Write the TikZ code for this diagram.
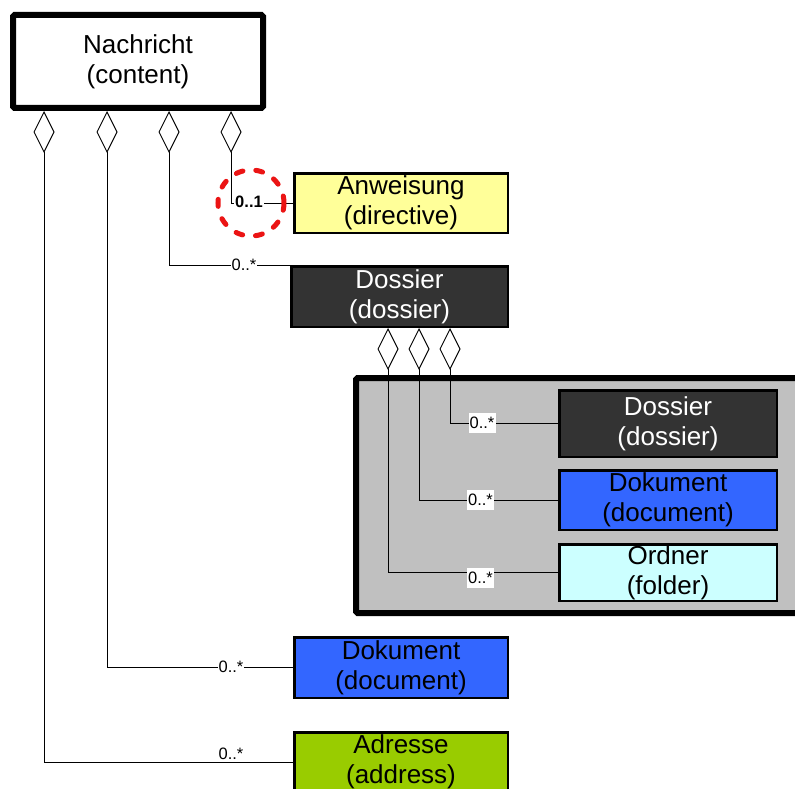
\documentclass[tikz,border=0pt]{standalone}
\usepackage{fontspec}
\setmainfont{Liberation Sans}
\usetikzlibrary{arrows.meta}
\definecolor{anwfill}{HTML}{FFFF99}
\definecolor{darkfill}{HTML}{333333}
\definecolor{blufill}{HTML}{3366FF}
\definecolor{cyanfill}{HTML}{CCFFFF}
\definecolor{grnfill}{HTML}{99CC00}
\definecolor{greyfill}{HTML}{C0C0C0}
\definecolor{hlred}{RGB}{235,20,20}
\begin{document}
\begin{tikzpicture}[x=1pt,y=-1pt,
  box/.style={draw=black,line width=2.5pt,rectangle,inner sep=0pt,align=center,
    font=\fontsize{26}{30}\selectfont},
  bigbox/.style={box,line width=6pt,rounded corners=1.5pt},
  lab/.style={fill=white,inner sep=1pt,font=\fontsize{16.5}{16.5}\selectfont},
  boldlab/.style={lab,font=\fontsize{16.5}{16.5}\selectfont\bfseries},
  agg/.style={draw=black,line width=1pt,{Diamond[open,length=42pt,width=21pt]}-}
]
\useasboundingbox (0,0) rectangle (795,789);
\clip (0,0) rectangle (795,789);

% container
\node[draw=black,line width=6pt,fill=greyfill,rectangle,minimum width=459pt,minimum height=235pt,rounded corners=1.5pt] (grp) at (585.5,495.5) {};

% boxes
\node[bigbox,fill=white,minimum width=250pt,minimum height=93pt] (nach) at (138,61.5) {Nachricht\\(content)};
\node[box,fill=anwfill,minimum width=213.5pt,minimum height=59.5pt] (anw) at (401,203) {Anweisung\\(directive)};
\node[box,fill=darkfill,text=white,minimum width=216.5pt,minimum height=60.5pt] (dos1) at (399.5,296.5) {Dossier\\(dossier)};
\node[box,fill=darkfill,text=white,minimum width=217.5pt,minimum height=66.5pt] (dos2) at (668,423.5) {Dossier\\(dossier)};
\node[box,fill=blufill,minimum width=217.5pt,minimum height=59.5pt] (dok2) at (668,500) {Dokument\\(document)};
\node[box,fill=cyanfill,minimum width=217.5pt,minimum height=56.5pt] (ord) at (668,572.5) {Ordner\\(folder)};
\node[box,fill=blufill,minimum width=213.5pt,minimum height=60.5pt] (dok1) at (401,667.5) {Dokument\\(document)};
\node[box,fill=grnfill,minimum width=213.5pt,minimum height=59.5pt] (adr) at (401,762) {Adresse\\(address)};

% aggregation ends
\coordinate (n1) at (nach.south -| 44,0);
\coordinate (n2) at (nach.south -| 107,0);
\coordinate (n3) at (nach.south -| 169,0);
\coordinate (n4) at (nach.south -| 231,0);
\coordinate (d1) at (dos1.south -| 388,0);
\coordinate (d2) at (dos1.south -| 419,0);
\coordinate (d3) at (dos1.south -| 450,0);

% connectors
\draw[agg] (n4) |- (anw.west);
\draw[agg] (n3) |- (dos1.north west);
\draw[agg] (n2) |- (dok1.west);
\draw[agg] (n1) |- (adr.west);
\draw[agg] (d3) |- (dos2.west);
\draw[agg] (d2) |- (dok2.west);
\draw[agg] (d1) |- (ord.west);

% multiplicities
\node[boldlab] (m4) at (249,202) {0..1};
\node[lab] (m3) at (244,265) {0..*};
\node[lab] (m2) at (231,667) {0..*};
\node[lab] (m1) at (231,754) {0..*};
\node[lab,minimum width=27pt,minimum height=20pt] (m7) at (482,423) {0..*};
\node[lab,minimum width=27pt,minimum height=20pt] (m6) at (480.5,500) {0..*};
\node[lab,minimum width=27pt,minimum height=20pt] (m5) at (480.5,578) {0..*};

% highlight
\draw[hlred,line width=5pt,line cap=round,dash pattern=on 7pt off 13pt] (251,203) circle[radius=33pt];
\end{tikzpicture}
\end{document}
